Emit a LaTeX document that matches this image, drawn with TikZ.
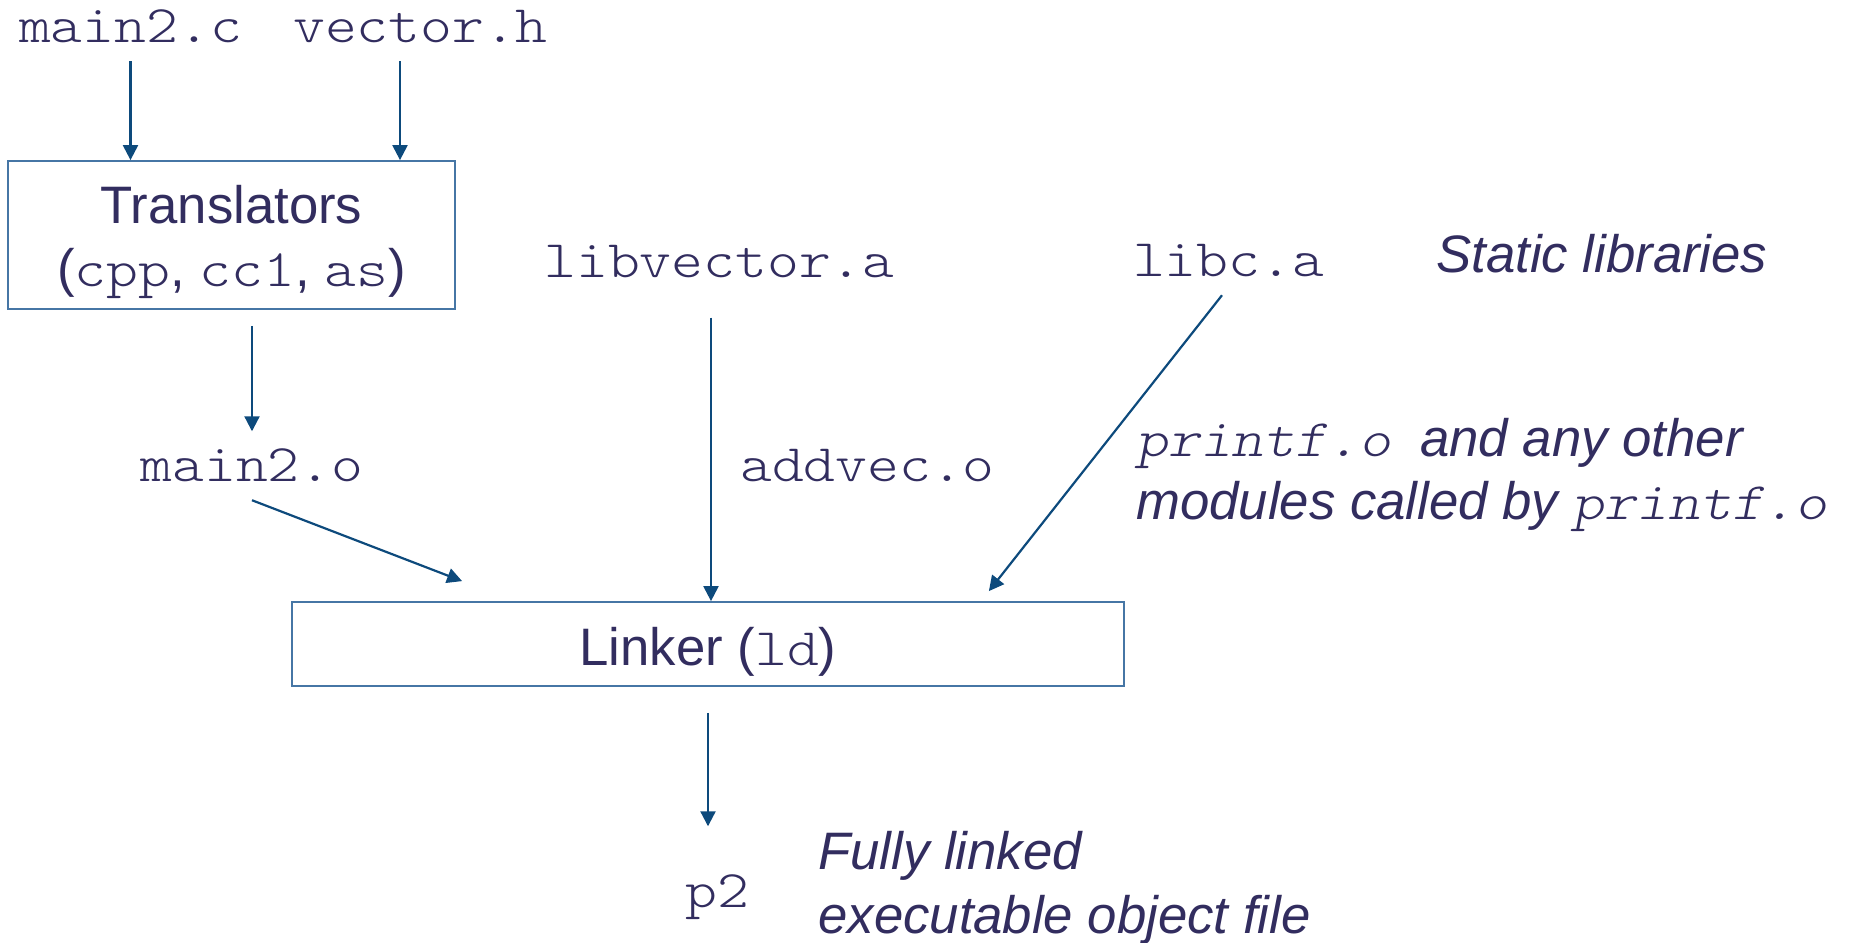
\documentclass[tikz,border=0pt]{standalone}
\usepackage{fontspec}
\setmainfont{Liberation Sans}
\setsansfont{Liberation Sans}
\setmonofont{lmmonolt10-regular.otf}[FakeStretch=1.15, ItalicFont=lmmonolt10-oblique.otf]
\usetikzlibrary{arrows.meta}

\definecolor{ink}{RGB}{50,45,95}
\definecolor{arrowblue}{RGB}{13,74,124}
\definecolor{boxblue}{RGB}{70,118,165}

\tikzset{
  file/.style={font=\ttfamily, text=ink, anchor=base},
  stage/.style={draw=boxblue, line width=1pt, text=ink, align=center},
  note/.style={font=\itshape, text=ink, align=left, anchor=base west, inner xsep=0pt},
  flow/.style={draw=arrowblue, line width=1.25pt, -{Triangle[length=0.3cm,width=0.3cm]}},
}

\begin{document}
\begin{tikzpicture}
    \fontsize{30}{36}\selectfont
    \useasboundingbox (0,0) rectangle (37.06,18.84);
    % compile step
    \node[file] (mainc) at (2.61,17.98) {main2.c};
    \node[file] (vech) at (8.41,17.98) {vector.h};
    \node[stage, minimum width=8.94cm, minimum height=2.96cm,
        text height=2.08cm, text depth=0cm] (trans) at (4.63,14.14)
        {Translators\\(\texttt{cpp}, \texttt{cc1}, \texttt{as})};
    \node[file] (maino) at (5.04,9.2) {main2.o};
    % libraries
    \node[file] (libvec) at (14.39,13.28) {libvector.a};
    \node[file] (libc) at (24.57,13.3) {libc.a};
    \node[note] (static) at (28.72,13.38) {Static libraries};
    \node[file] (addvec) at (17.35,9.2) {addvec.o};
    \node[note] (printf) at (22.72,8.45)
        {\texttt{printf.o}\ \ and any other\\modules called by \texttt{printf.o}};
    % link step
    \node[stage, minimum width=16.64cm, minimum height=1.68cm, inner ysep=0pt,
        text height=1.06cm, text depth=0.22cm] (linker) at (14.16,5.96) {Linker (\texttt{ld})};
    \node[file] (ptwo) at (14.35,0.7) {p2};
    \node[note] (exec) at (16.36,0.18) {Fully linked\\executable object file};

    \coordinate (vecin) at ([xshift=-0.41cm]vech.south);
    \coordinate (vecout) at ([xshift=-0.17cm,yshift=-0.43cm]libvec.south);
    \draw[flow] (mainc.south) -- (mainc.south |- trans.north);
    \draw[flow] (vecin) -- (vecin |- trans.north);
    \draw[flow, shorten <=0.32cm] (trans.south -| maino) -- (maino.north);
    \draw[flow] (maino.south) -- ([shift={(3.42,0.4)}]linker.north west);
    \draw[flow] (vecout) -- (vecout |- linker.north);
    \draw[flow] ([xshift=-0.13cm]libc.south) -- ([shift={(-2.72,0.2)}]linker.north east);
    \draw[flow, shorten <=0.52cm, shorten >=0.6cm] (linker.south) -- (linker.south |- ptwo.north);
\end{tikzpicture}
\end{document}
